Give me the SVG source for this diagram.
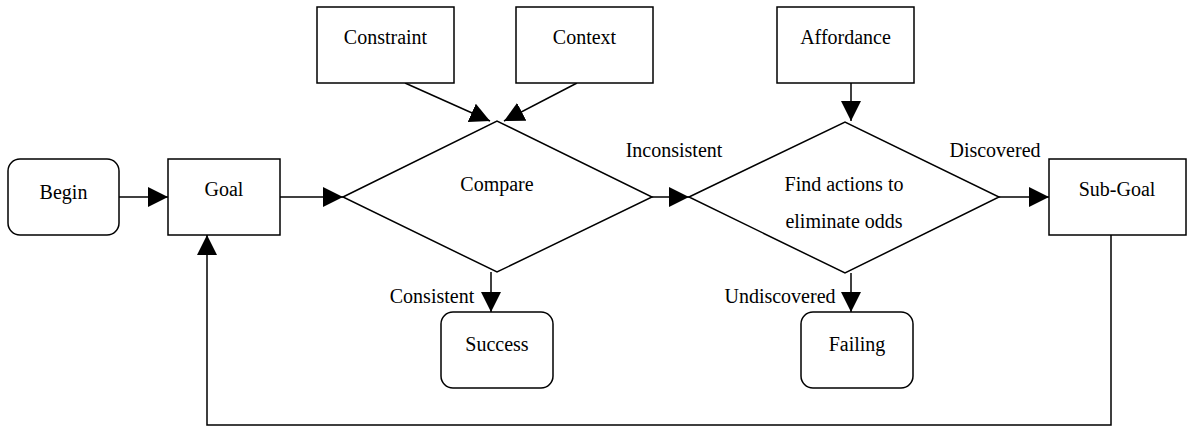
<svg xmlns="http://www.w3.org/2000/svg" width="1191" height="428" viewBox="0 0 1191 428">
<style>
.b{fill:#fff;stroke:#000;stroke-width:1.5}
.t{font-family:"Liberation Serif",serif;font-size:20px;fill:#000;text-anchor:middle}
.l{fill:none;stroke:#000;stroke-width:1.5}
</style>
<defs>
<marker id="ah" markerUnits="userSpaceOnUse" markerWidth="20" markerHeight="20" refX="20" refY="10" orient="auto" viewBox="0 0 20 20">
<path d="M0,0 L20,10 L0,20 z" fill="#000"/>
</marker>
</defs>
<rect width="1191" height="428" fill="#fff"/>
<g id="connectors">
<line class="l" x1="119" y1="197" x2="168" y2="197" marker-end="url(#ah)"/>
<line class="l" x1="280" y1="197" x2="343" y2="197" marker-end="url(#ah)"/>
<line class="l" x1="405" y1="83" x2="490" y2="121" marker-end="url(#ah)"/>
<line class="l" x1="577" y1="83" x2="504" y2="121" marker-end="url(#ah)"/>
<line class="l" x1="652" y1="197" x2="689" y2="197" marker-end="url(#ah)"/>
<line class="l" x1="851" y1="83" x2="851" y2="121" marker-end="url(#ah)"/>
<line class="l" x1="999" y1="197" x2="1049" y2="197" marker-end="url(#ah)"/>
<polyline class="l" points="491,272 491,312" marker-end="url(#ah)"/>
<polyline class="l" points="851,273 851,312" marker-end="url(#ah)"/>
<polyline class="l" points="1111,235 1111,425 207,425 207,235" marker-end="url(#ah)"/>
<text class="t" x="674" y="157">Inconsistent</text>
<text class="t" x="995" y="157">Discovered</text>
<text class="t" x="432" y="303">Consistent</text>
<text class="t" x="780" y="303">Undiscovered</text>
</g>
<g id="begin"><rect class="b" x="8" y="159" width="111" height="76" rx="12"/><text class="t" x="63.5" y="199">Begin</text></g>
<g id="goal"><rect class="b" x="168" y="159" width="112" height="76"/><text class="t" x="224" y="196">Goal</text></g>
<g id="constraint"><rect class="b" x="317" y="7" width="137" height="76"/><text class="t" x="385.5" y="44">Constraint</text></g>
<g id="context"><rect class="b" x="516" y="7" width="137" height="76"/><text class="t" x="584.5" y="44">Context</text></g>
<g id="affordance"><rect class="b" x="777" y="7" width="137" height="76"/><text class="t" x="845.5" y="44">Affordance</text></g>
<g id="compare"><polygon class="b" points="343,197 497,121 652,197 497,272"/><text class="t" x="497" y="191">Compare</text></g>
<g id="find"><polygon class="b" points="689,197 845,122 999,197 845,273"/><text class="t" x="844" y="191">Find actions to</text><text class="t" x="844" y="228">eliminate odds</text></g>
<g id="subgoal"><rect class="b" x="1049" y="159" width="137" height="76"/><text class="t" x="1117" y="196">Sub-Goal</text></g>
<g id="success"><rect class="b" x="441" y="312" width="112" height="76" rx="12"/><text class="t" x="497" y="351">Success</text></g>
<g id="failing"><rect class="b" x="801" y="312" width="112" height="76" rx="12"/><text class="t" x="857" y="351">Failing</text></g>
</svg>
